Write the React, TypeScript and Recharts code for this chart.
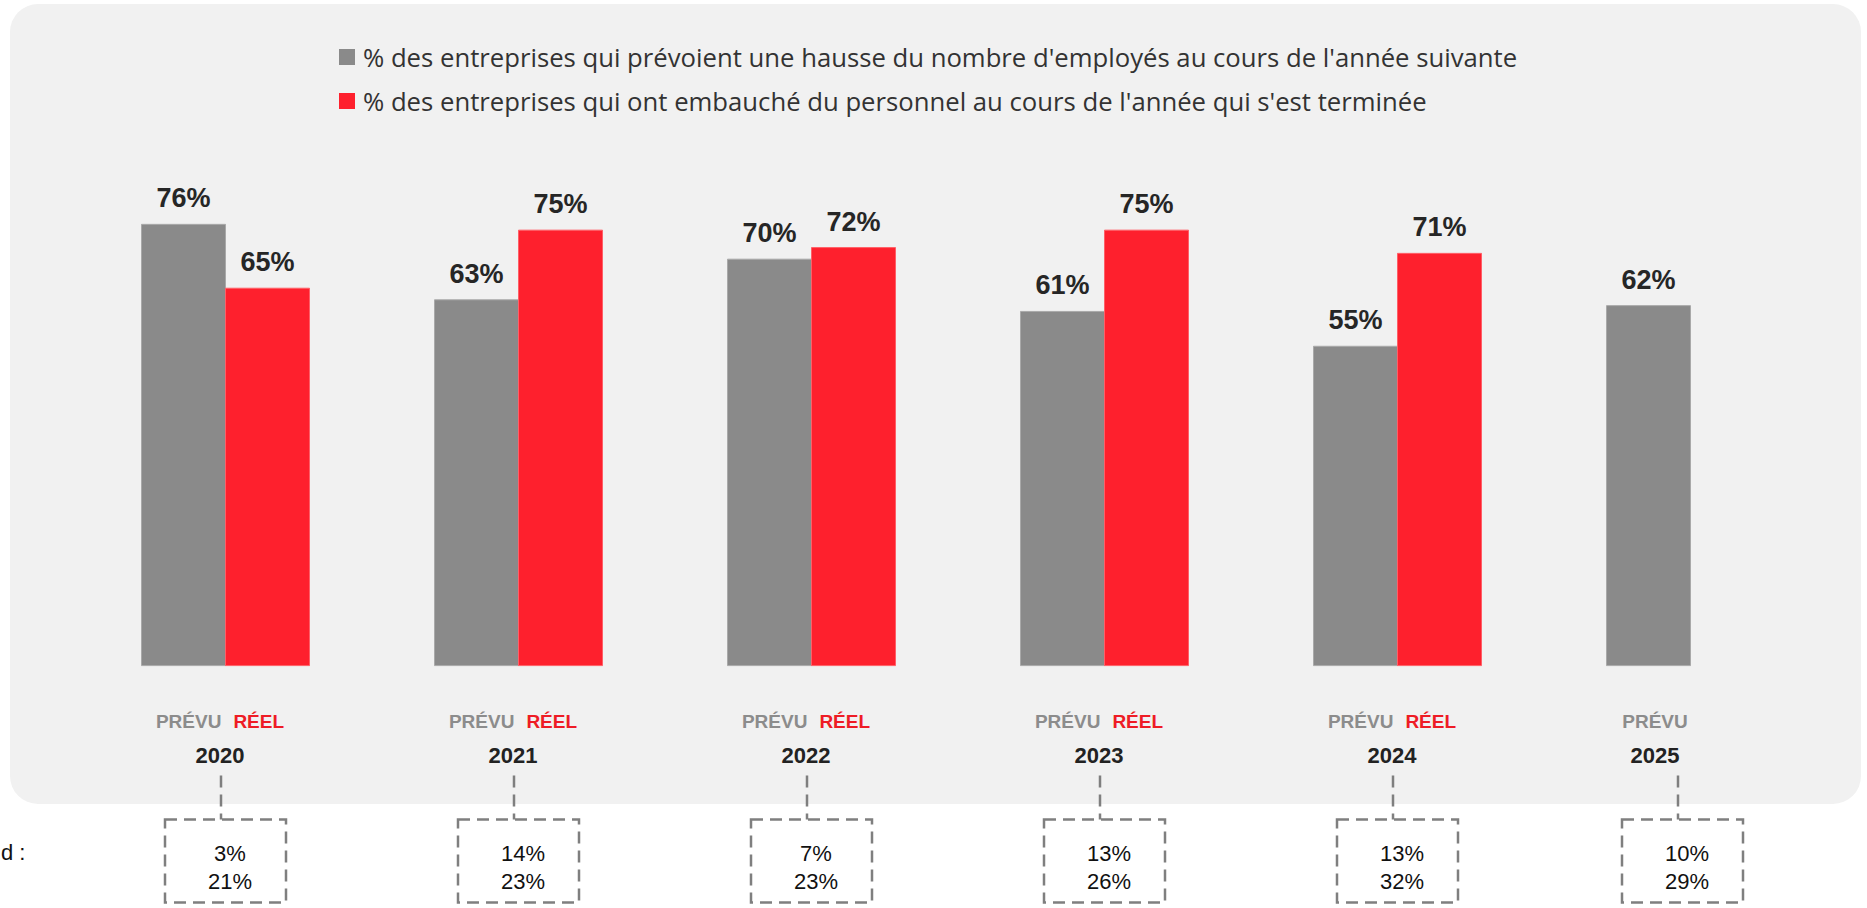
import React from "react";
import { ComposedChart, Bar, XAxis, YAxis, LabelList, Legend } from "recharts";

const years = ["2020", "2021", "2022", "2023", "2024", "2025"];
const prevu = [76, 63, 70, 61, 55, 62];
const reel: (number | null)[] = [65, 75, 72, 75, 71, null];
const boxTop = ["3%", "14%", "7%", "13%", "13%", "10%"];
const boxBottom = ["21%", "23%", "23%", "26%", "32%", "29%"];
const seriesKeys = ["prevu", "reel"];
const seriesNames = [
  "% des entreprises qui prévoient une hausse du nombre d'employés au cours de l'année suivante",
  "% des entreprises qui ont embauché du personnel au cours de l'année qui s'est terminée",
];

const GREY = "#8a8a8a";
const RED = "#fe202d";
const FONT = "'Liberation Sans', Arial, sans-serif";

const data = years.map((y, i) => ({ year: y, prevu: prevu[i], reel: reel[i] }));

function YearTick(props: any) {
  const { x, y, payload } = props;
  const i = payload.index;
  const hasReel = reel[i] != null;
  const cx = hasReel ? x - 5 : x - 35;
  const bx = hasReel ? x : x - 8;
  const dash = { stroke: "#7f7f7f", strokeWidth: 2.5, strokeDasharray: "12 7", fill: "none" };
  return (
    <g fontFamily={FONT}>
      <text x={cx} y={y + 62} textAnchor="middle" fontSize={19} fontWeight="bold">
        <tspan fill="#8c8c8c">PRÉVU</tspan>
        {hasReel && (
          <tspan fill="#ee1c25" dx={12}>
            RÉEL
          </tspan>
        )}
      </text>
      <text x={cx} y={y + 97} textAnchor="middle" fontSize={22} fontWeight="bold" fill="#222">
        {payload.value}
      </text>
      <line x1={bx - 4} x2={bx - 4} y1={y + 110} y2={y + 154} {...dash} />
      <rect x={bx - 60} y={y + 154} width={121} height={83} {...dash} />
      <text x={bx + 5} y={y + 195} textAnchor="middle" fontSize={22} fill="#111">
        {boxTop[i]}
      </text>
      <text x={bx + 5} y={y + 223} textAnchor="middle" fontSize={22} fill="#111">
        {boxBottom[i]}
      </text>
    </g>
  );
}

function renderLegend(props: any) {
  const items = [...(props.payload || [])].sort(
    (a: any, b: any) => seriesKeys.indexOf(a.dataKey) - seriesKeys.indexOf(b.dataKey)
  );
  return (
    <div style={{ fontFamily: "'Open Sans', sans-serif", fontSize: 25.7, color: "#333", whiteSpace: "nowrap" }}>
      {items.map((it: any) => (
        <div key={it.dataKey} style={{ display: "flex", alignItems: "center", height: 44 }}>
          <span style={{ display: "inline-block", width: 16, height: 16, background: it.color, marginRight: 8 }} />
          <span>{it.value}</span>
        </div>
      ))}
    </div>
  );
}

const fmt = (v: any) => (v == null ? "" : `${v}%`);

export default function App() {
  return (
    <div style={{ position: "absolute", left: 0, top: 0, width: 1867, height: 908, background: "#fff" }}>
      <div
        style={{
          position: "absolute",
          left: 10,
          top: 4,
          width: 1851,
          height: 800,
          borderRadius: 28,
          background: "#f1f1f1",
        }}
      />
      <div
        style={{
          position: "absolute",
          left: 1,
          top: 840,
          fontFamily: FONT,
          fontSize: 22,
          color: "#111",
        }}
      >
        d :
      </div>
      <div style={{ position: "absolute", left: 0, top: 0 }}>
        <ComposedChart
          width={1867}
          height={908}
          data={data}
          margin={{ top: 85, right: 30.5, bottom: 212.4, left: 78.5 }}
          barCategoryGap={63}
          barGap={0}
        >
          <XAxis
            dataKey="year"
            height={30}
            axisLine={false}
            tickLine={false}
            tickSize={0}
            tickMargin={0}
            interval={0}
            tick={<YearTick />}
          />
          <YAxis hide domain={[0, 100]} />
          <Legend
            layout="vertical"
            align="center"
            verticalAlign="top"
            content={renderLegend}
            wrapperStyle={{ left: 339, top: 35, width: 1400, height: 0, overflow: "visible" }}
          />
          <Bar dataKey="prevu" name={seriesNames[0]} fill={GREY} stroke="#a9a9a9" strokeWidth={1} isAnimationActive={false}>
            <LabelList dataKey="prevu" position="top" offset={17} formatter={fmt} fill="#262626" fontSize={27} fontWeight="bold" fontFamily={FONT} />
          </Bar>
          <Bar dataKey="reel" name={seriesNames[1]} fill={RED} stroke="#ff5f67" strokeWidth={1} isAnimationActive={false}>
            <LabelList dataKey="reel" position="top" offset={17} formatter={fmt} fill="#262626" fontSize={27} fontWeight="bold" fontFamily={FONT} />
          </Bar>
        </ComposedChart>
      </div>
    </div>
  );
}
